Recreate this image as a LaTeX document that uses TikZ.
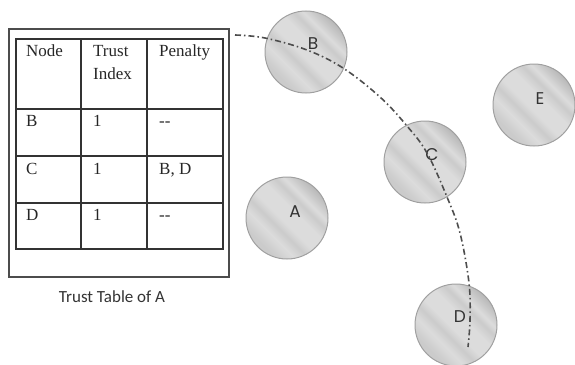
\documentclass[tikz,border=0pt]{standalone}
\usepackage{fontspec}
\setmainfont{Liberation Serif}
\newfontfamily\capfont{Carlito}
\newfontfamily\nodefont{Poppins}
\definecolor{cA}{HTML}{DCDCDC}
\definecolor{cB}{HTML}{CBCBCB}
\definecolor{cC}{HTML}{B8B8B8}
\definecolor{rimc}{HTML}{A0A0A0}
\definecolor{linec}{HTML}{333333}
\definecolor{arcc}{HTML}{4D4D4D}
\pgfdeclarehorizontalshading{stripes}{100bp}{color(0bp)=(cB); color(28bp)=(cB); color(36bp)=(cA); color(42bp)=(cB); color(47bp)=(cA); color(56bp)=(cA); color(62bp)=(cB); color(66bp)=(cA); color(70bp)=(cB); color(75bp)=(cC); color(79bp)=(cB); color(84bp)=(cC); color(100bp)=(cB)}
\tikzset{
  peer/.style={circle, minimum size=82pt, draw=rimc, line width=1pt, shading=stripes, shading angle=45},
  peerlabel/.style={font=\nodefont\fontsize{17}{17}\selectfont, text=black!80, inner sep=0pt},
  cell/.style={anchor=base west, inner sep=0pt, font=\fontsize{17}{17}\selectfont, text=black!85},
  tline/.style={draw=linec, line width=1.4pt},
  arc/.style={draw=arcc, line width=1.6pt, dash pattern=on 6pt off 3pt on 1.5pt off 3pt}
}
\begin{document}
\begin{tikzpicture}[x=1pt,y=-1pt]
\useasboundingbox (0,0) rectangle (575,364);
% outer frame and table
\draw[draw=black!70, line width=1.3pt] (9,29) rectangle (229,277);
\draw[tline] (16,39) rectangle (223,249);
\draw[tline] (81,39) -- (81,249);
\draw[tline] (147,39) -- (147,249);
\draw[tline] (16,109) -- (223,109);
\draw[tline] (16,156) -- (223,156);
\draw[tline] (16,203) -- (223,203);
% header
\node[cell] (hnode) at (26,56) {Node};
\node[cell] (htrust) at (93,56) {Trust};
\node[cell] (hindex) at (93,79) {Index};
\node[cell] (hpen) at (159,56) {Penalty};
% rows
\node[cell] (rb) at (26,126) {B};
\node[cell] (rb1) at (93,126) {1};
\node[cell] (rb2) at (159,126) {{-}{-}};
\node[cell] (rc) at (26,174) {C};
\node[cell] (rc1) at (93,174) {1};
\node[cell] (rc2) at (159,174) {B, D};
\node[cell] (rd) at (26,220) {D};
\node[cell] (rd1) at (93,220) {1};
\node[cell] (rd2) at (159,220) {{-}{-}};
\node[font=\capfont\fontsize{17}{17}\selectfont, text=black!80, anchor=base] (cap) at (112,302) {Trust Table of A};
% peers
\node[peer] (B) at (306,52) {};
\node[peer] (E) at (534,105) {};
\node[peer] (C) at (425,162) {};
\node[peer] (A) at (287,218) {};
\node[peer] (D) at (456,325) {};
\node[peerlabel] (lB) at (313,44) {B};
\node[peerlabel] (lE) at (540,99) {E};
\node[peerlabel] (lC) at (432,155) {C};
\node[peerlabel] (lA) at (295,212) {A};
\node[peerlabel] (lD) at (460,317) {D};
% range arc
\draw[arc] plot[smooth, tension=0.6] coordinates {(235,35) (265,38) (307,50) (343,68) (380,97) (407,126) (427,153) (447,197) (460,233) (469,283) (470,320) (468,347)};
\end{tikzpicture}
\end{document}
